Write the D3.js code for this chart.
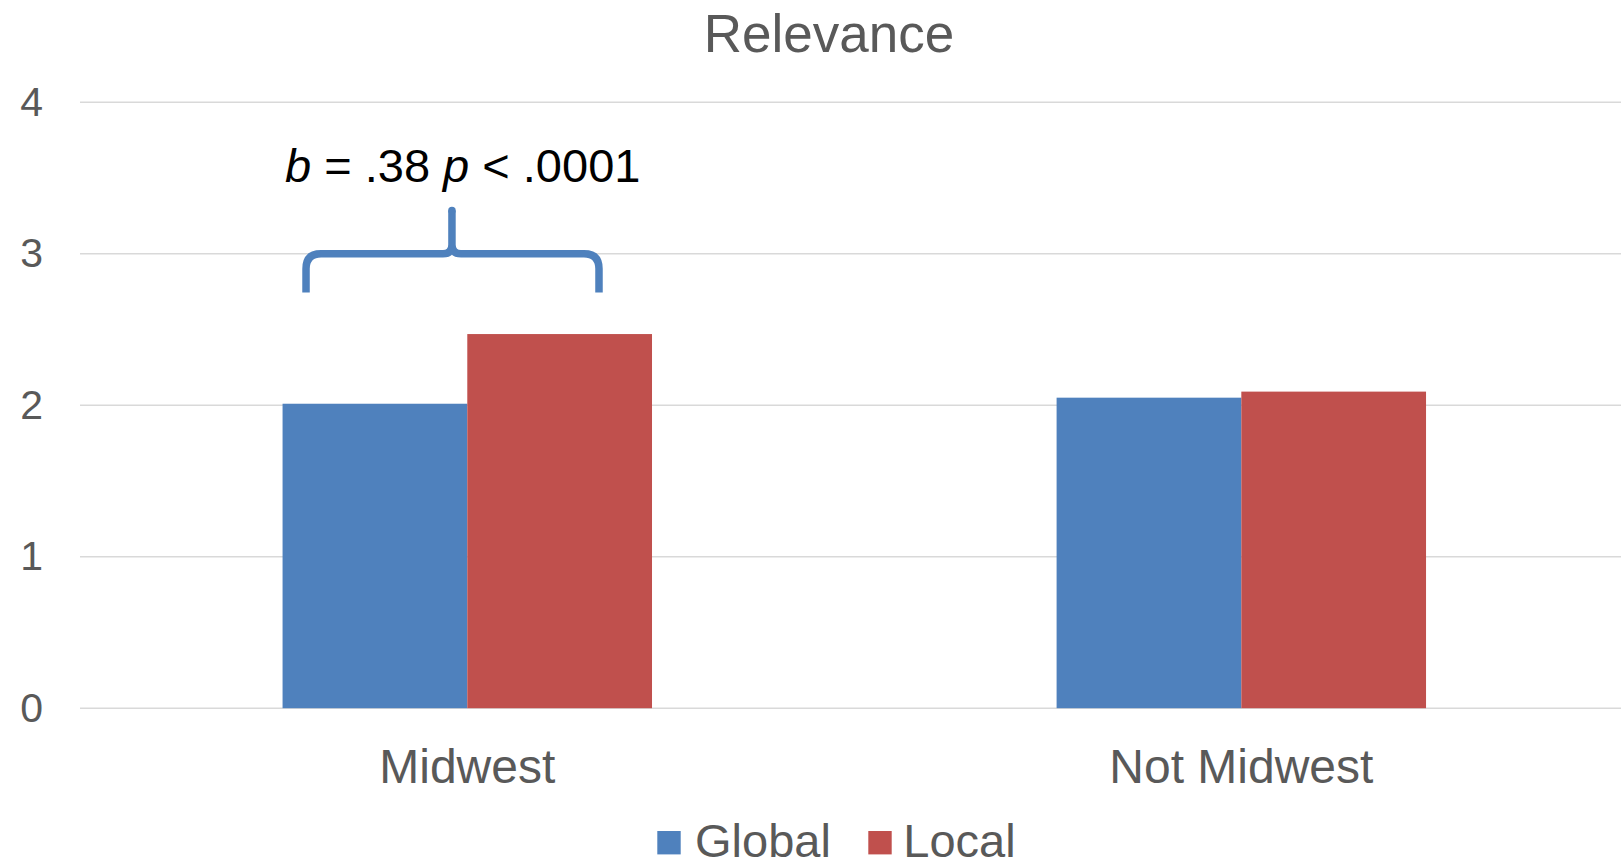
<!DOCTYPE html>
<html>
<head>
<meta charset="utf-8">
<script src="https://cdnjs.cloudflare.com/ajax/libs/d3/7.8.5/d3.min.js"></script>
<style>
  body { margin: 0; background: #fff; }
  text { font-family: "Liberation Sans", Arial, sans-serif; }
</style>
</head>
<body>
<div id="chart"></div>
<script>
// data
var categories = ["Midwest", "Not Midwest"];
var seriesNames = ["Global", "Local"];
var globalValues = [2.01, 2.05];
var localValues = [2.47, 2.09];
var yTicks = [0, 1, 2, 3, 4];
var titleText = "Relevance";
var colors = ["#4F81BD", "#C0504D"];

// brace annotation in data units (y) and bar-width units (x, from group centre)
var braceY = { bottom: 2.745, mid: 3.0, tip: 3.285 };
var braceX = { left: -0.873, tip: -0.083, right: 0.713 };
var annotationY = 3.475;

var W = 1621, H = 863;
var margin = { top: 102.3, right: -7.6, bottom: 154.8, left: 80 };

var svg = d3.select("#chart")
    .append("svg")
    .attr("width", W)
    .attr("height", H);

// scales
var x0 = d3.scaleBand()
    .domain(categories)
    .range([margin.left, W - margin.right])
    .paddingInner(0.5227)
    .paddingOuter(0.2617);

var x1 = d3.scaleBand()
    .domain(seriesNames)
    .range([0, x0.bandwidth()]);

var y = d3.scaleLinear()
    .domain([0, 4])
    .range([H - margin.bottom, margin.top]);

// gridlines
svg.append("g")
    .selectAll("line")
    .data(yTicks)
    .join("line")
    .attr("x1", margin.left)
    .attr("x2", W - margin.right)
    .attr("y1", d => y(d))
    .attr("y2", d => y(d))
    .attr("stroke", "#d9d9d9")
    .attr("stroke-width", 1.5);

// y labels
svg.append("g")
    .selectAll("text")
    .data(yTicks)
    .join("text")
    .attr("x", 43)
    .attr("y", d => y(d))
    .attr("dy", "0.33em")
    .attr("text-anchor", "end")
    .attr("fill", "#595959")
    .style("font-size", "41px")
    .text(d => d);

// bars
var rows = categories.map((c, i) => ({ cat: c, vals: [globalValues[i], localValues[i]] }));

svg.append("g")
    .selectAll("g")
    .data(rows)
    .join("g")
    .attr("transform", d => "translate(" + x0(d.cat) + ",0)")
    .selectAll("rect")
    .data(d => d.vals.map((v, j) => ({ key: seriesNames[j], value: v, j: j })))
    .join("rect")
    .attr("x", d => x1(d.key))
    .attr("width", x1.bandwidth())
    .attr("y", d => y(d.value))
    .attr("height", d => y(0) - y(d.value))
    .attr("fill", d => colors[d.j]);

// x labels
svg.append("g")
    .selectAll("text")
    .data(categories)
    .join("text")
    .attr("x", d => x0(d) + x0.bandwidth() / 2)
    .attr("y", 782.6)
    .attr("text-anchor", "middle")
    .attr("fill", "#595959")
    .style("font-size", "48px")
    .text(d => d);

// title
svg.append("text")
    .attr("x", 829)
    .attr("y", 51.7)
    .attr("text-anchor", "middle")
    .attr("fill", "#595959")
    .style("font-size", "53px")
    .text(titleText);

// brace over Midwest
var cx = x0(categories[0]) + x0.bandwidth() / 2;
var bw = x1.bandwidth();
var bl = cx + braceX.left * bw, br = cx + braceX.right * bw, bt = cx + braceX.tip * bw;
var yb = y(braceY.bottom), ym = y(braceY.mid), yt = y(braceY.tip);
var r = 15, rt = 9;
var brace = d3.path();
brace.moveTo(bl, yb);
brace.lineTo(bl, ym + r);
brace.quadraticCurveTo(bl, ym, bl + r, ym);
brace.lineTo(bt - rt, ym);
brace.quadraticCurveTo(bt, ym, bt, ym - rt);
brace.lineTo(bt, yt);
brace.moveTo(br, yb);
brace.lineTo(br, ym + r);
brace.quadraticCurveTo(br, ym, br - r, ym);
brace.lineTo(bt + rt, ym);
brace.quadraticCurveTo(bt, ym, bt, ym - rt);

svg.append("path")
    .attr("d", brace.toString())
    .attr("fill", "none")
    .attr("stroke", colors[0])
    .attr("stroke-width", 7.5)
    .attr("stroke-linejoin", "round");

svg.append("circle")
    .attr("cx", bt)
    .attr("cy", yt)
    .attr("r", 3.75)
    .attr("fill", colors[0]);

// annotation text
var ann = svg.append("text")
    .attr("x", 285)
    .attr("y", y(annotationY))
    .attr("fill", "#000")
    .style("font-size", "47px");
ann.append("tspan").style("font-style", "italic").text("b");
ann.append("tspan").text(" = .38 ");
ann.append("tspan").style("font-style", "italic").text("p");
ann.append("tspan").text(" < .0001");

// legend
var legend = svg.append("g")
    .selectAll("g")
    .data(seriesNames)
    .join("g")
    .attr("transform", (d, i) => "translate(" + [657.3, 868.3][i] + ",831)");

legend.append("rect")
    .attr("width", 23.4)
    .attr("height", 23.4)
    .attr("fill", (d, i) => colors[i]);

legend.append("text")
    .attr("x", (d, i) => [37.7, 35][i])
    .attr("y", 25.5)
    .attr("fill", "#595959")
    .style("font-size", "47px")
    .text(d => d);
</script>
</body>
</html>
